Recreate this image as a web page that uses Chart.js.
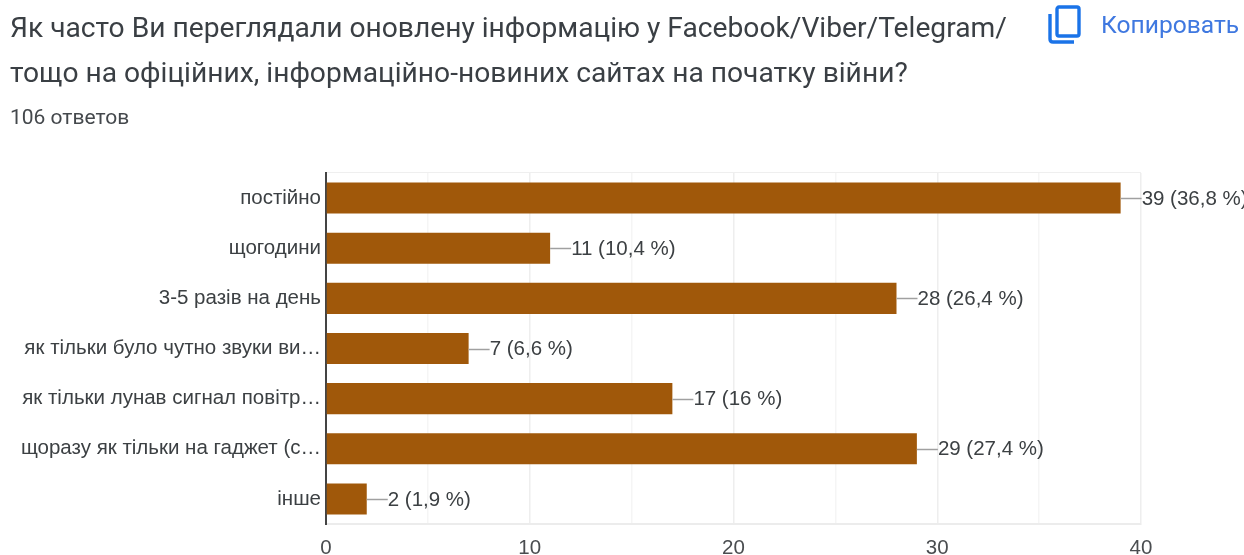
<!DOCTYPE html>
<html>
<head>
<meta charset="utf-8">
<title>Chart</title>
<script src="https://cdn.jsdelivr.net/npm/chart.js@4"></script>
<style>
  html, body { margin: 0; padding: 0; width: 1244px; height: 555px; overflow: hidden; background: #fff; }
  .question { position: absolute; left: 10px; top: 5px; font: 28.2px/45px Roboto, sans-serif; color: #3a3f44; white-space: nowrap; }
  .answers { position: absolute; left: 10px; top: 105px; font: 21px/24px Roboto, sans-serif; color: #44484c; }
  .copy { position: absolute; left: 1101px; top: 10px; font: 24.6px/30px Roboto, sans-serif; color: #3f78e0; white-space: nowrap; }
  .copy-icon { position: absolute; left: 1047px; top: 5px; }
  #chart { position: absolute; left: 0; top: 0; }
</style>
</head>
<body>
<canvas id="chart" width="1244" height="555"></canvas>
<div class="question">Як часто Ви переглядали оновлену інформацію у Facebook/Viber/Telegram/<br>тощо на офіційних, інформаційно-новиних сайтах на початку війни?</div>
<div class="answers">106 ответов</div>
<svg class="copy-icon" width="36" height="40" viewBox="0 0 36 40" fill="none" stroke="#1a73e8" stroke-width="3.4">
  <rect x="10" y="2" width="22" height="29" rx="2"></rect>
  <path d="M3 9 V34 Q3 37 6 37 H27"></path>
</svg>
<div class="copy">Копировать</div>
<script>
const categories = [
  'постійно',
  'щогодини',
  '3-5 разів на день',
  'як тільки було чутно звуки ви…',
  'як тільки лунав сигнал повітр…',
  'щоразу як тільки на гаджет (с…',
  'інше'
];
const counts = [39, 11, 28, 7, 17, 29, 2];
const percents = ['36,8', '10,4', '26,4', '6,6', '16', '27,4', '1,9'];
const xTickLabels = ['0', '10', '20', '30', '40'];

const labelFont = '20.5px "Liberation Sans", Arial, sans-serif';

// leader line plus "n (p %)" next to each bar
const barLabels = {
  id: 'barLabels',
  afterDatasetsDraw(chart) {
    const ctx = chart.ctx;
    const bars = chart.getDatasetMeta(0).data;
    ctx.save();
    ctx.font = labelFont;
    ctx.textBaseline = 'middle';
    bars.forEach((bar, i) => {
      ctx.strokeStyle = '#a0a0a0';
      ctx.lineWidth = 1.5;
      ctx.beginPath();
      ctx.moveTo(bar.x, Math.round(bar.y) + 0.5);
      ctx.lineTo(bar.x + 21, Math.round(bar.y) + 0.5);
      ctx.stroke();
      ctx.fillStyle = '#3c4043';
      ctx.fillText(counts[i] + ' (' + percents[i] + ' %)', bar.x + 21, bar.y + 1);
    });
    ctx.restore();
  }
};

new Chart(document.getElementById('chart').getContext('2d'), {
  type: 'bar',
  data: {
    labels: categories,
    datasets: [{
      data: counts,
      backgroundColor: '#a0580a',
      barPercentage: 0.62,
      categoryPercentage: 1
    }]
  },
  plugins: [barLabels],
  options: {
    indexAxis: 'y',
    responsive: false,
    animation: false,
    layout: { padding: { top: 173, right: 103, left: 0, bottom: 0 } },
    plugins: { legend: { display: false }, tooltip: { enabled: false } },
    scales: {
      x: {
        min: 0,
        max: 40,
        afterFit: (scale) => { scale.height = 31; },
        ticks: {
          stepSize: 5,
          autoSkip: false,
          maxRotation: 0,
          padding: 12,
          color: '#4a4d50',
          font: { family: '"Liberation Sans", Arial, sans-serif', size: 20.5 },
          callback: (value) => xTickLabels[xTickLabels.indexOf(String(value))] || ''
        },
        grid: {
          drawTicks: false,
          lineWidth: 1.5,
          color: (c) => (c.tick.value % 10 === 0 ? '#eeeeee' : '#f5f5f5')
        },
        border: { color: '#ececec', width: 2 }
      },
      y: {
        afterFit: (scale) => { scale.width = 326; },
        ticks: {
          autoSkip: false,
          padding: 5,
          color: '#3c4043',
          font: { family: '"Liberation Sans", Arial, sans-serif', size: 20.5 }
        },
        grid: {
          drawTicks: false,
          color: (c) => (c.index === 0 ? '#efefef' : 'transparent')
        },
        border: { color: '#444444', width: 2 }
      }
    }
  }
});
</script>
</body>
</html>
